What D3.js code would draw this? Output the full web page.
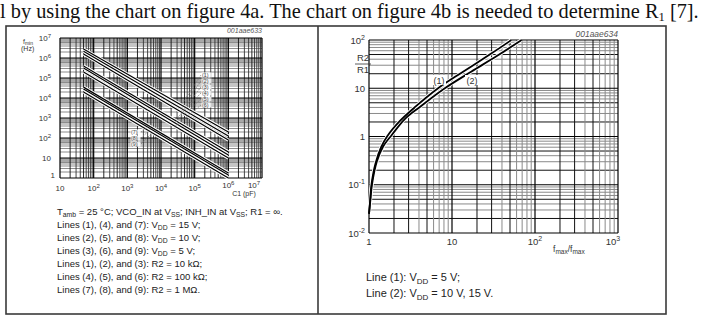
<!DOCTYPE html>
<html><head><meta charset="utf-8">
<script src="https://cdn.jsdelivr.net/npm/d3@7"></script>
<style>body{margin:0;background:#fff}svg{display:block}</style>
</head><body><svg id="c" width="702" height="318"></svg>
<script>
// ---------- Figure 4a data: f_min vs C1 (straight lines on log-log, given by end points) ----------
const c1Ends = [50, 1e6];                       // pF
const lineIdsA = ["(1)","(2)","(3)","(4)","(5)","(6)","(7)","(8)","(9)"];
const fminAtStart = [2.8e6, 2.2e6, 1.6e6, 4.0e5, 3.2e5, 2.0e5, 3.5e4, 2.8e4, 2.0e4];
const fminAtEnd   = [200, 126, 79, 20, 14, 10, 1.8, 1.4, 1.0];
const xTicksA = [10, 1e2, 1e3, 1e4, 1e5, 1e6, 1e7];
const yTicksA = [1, 10, 1e2, 1e3, 1e4, 1e5, 1e6, 1e7];
const leaderC1A = [4e4, 4e4, 4e4, 2.6e4, 2.6e4, 2.6e4, 4.5e3, 5e3, 5.5e3];

// ---------- Figure 4b data: R2/R1 vs fmax/fmin ----------
const ratioLine1 = [1.0, 1.03, 1.07, 1.2, 1.4, 1.65, 2.36, 3.6, 6.8, 13.6, 30, 52];
const r2r1Line1  = [0.025, 0.045, 0.1, 0.28, 0.6, 1.0, 2.1, 4.1, 10, 22, 53, 100];
const ratioLine2 = [1.0, 1.035, 1.085, 1.24, 1.48, 1.9, 2.7, 4.1, 8.2, 17, 35, 69];
const r2r1Line2  = [0.025, 0.045, 0.1, 0.3, 0.62, 1.1, 2.3, 4.1, 10, 22, 47, 100];
const xTicksB = [1, 10, 100, 1000];
const yTicksB = [0.01, 0.1, 1, 10, 100];

const svg = d3.select("#c");
const SANS = "'Liberation Sans', Arial, sans-serif";

// ---------- top sentence ----------
const tg = svg.append("g");
const tt = tg.append("text").attr("x", 0).attr("y", 18)
  .attr("font-family", "'Liberation Serif', 'DejaVu Serif', serif").attr("font-size", 21).attr("fill", "#111");
tt.append("tspan").text("l by using the chart on figure 4a. The chart on figure 4b is needed to determine R");
tt.append("tspan").attr("font-size", 13).attr("dy", 3).text("1");
tt.append("tspan").attr("dy", -3).text(" [7].");
const tw = tt.node().getComputedTextLength();
tg.attr("transform", `scale(${699 / tw},1)`);

// ---------- table frame ----------
svg.append("rect").attr("x", 6).attr("y", 26).attr("width", 660).attr("height", 288)
  .attr("fill", "none").attr("stroke", "#3a3a3a").attr("stroke-width", 1.6);
svg.append("line").attr("x1", 318).attr("x2", 318).attr("y1", 26).attr("y2", 314)
  .attr("stroke", "#3a3a3a").attr("stroke-width", 1.6);

function minors(lo, hi) {
  const out = [];
  for (let e = Math.round(Math.log10(lo)); e < Math.round(Math.log10(hi)); e++)
    for (let m = 2; m <= 9; m++) out.push({ v: m * Math.pow(10, e), m });
  return out;
}
function powLabel(sel, v, supSize, supDy) {
  const e = Math.round(Math.log10(v));
  if (e === 0) { sel.text("1"); return; }
  if (e === 1) { sel.text("10"); return; }
  sel.append("tspan").text("10");
  sel.append("tspan").attr("font-size", supSize).attr("dy", supDy).text(e < 0 ? "-" + (-e) : e);
}

// ================= Figure 4a =================
const xA = d3.scaleLog().domain([10, 1e7]).range([60, 262]);
const yA = d3.scaleLog().domain([1, 1e7]).range([178, 38]);
const gA = svg.append("g");

minors(1, 1e7).forEach(d => {
  gA.append("line").attr("x1", 60).attr("x2", 262).attr("y1", yA(d.v)).attr("y2", yA(d.v))
    .attr("stroke", "#8c8c8c").attr("stroke-width", 1.1);
});
minors(10, 1e7).forEach(d => {
  gA.append("line").attr("y1", 38).attr("y2", 178).attr("x1", xA(d.v)).attr("x2", xA(d.v))
    .attr("stroke", d.m === 5 || d.m === 2 ? "#111" : "#333").attr("stroke-width", 0.9);
});
yTicksA.forEach(v => gA.append("line").attr("x1", 60).attr("x2", 262).attr("y1", yA(v)).attr("y2", yA(v))
  .attr("stroke", "#000").attr("stroke-width", 1.2));
xTicksA.forEach(v => gA.append("line").attr("y1", 38).attr("y2", 178).attr("x1", xA(v)).attr("x2", xA(v))
  .attr("stroke", "#000").attr("stroke-width", 1.2));

const lineA = d3.line().x(d => xA(d[0])).y(d => yA(d[1]));
const segsA = fminAtStart.map((f0, i) => [[c1Ends[0], f0], [c1Ends[1], fminAtEnd[i]]]);
segsA.forEach(s => gA.append("path").attr("d", lineA(s)).attr("fill", "none")
  .attr("stroke", "#fff").attr("stroke-width", 3.2));
segsA.forEach(s => gA.append("path").attr("d", lineA(s)).attr("fill", "none")
  .attr("stroke", "#000").attr("stroke-width", 1.2));

// line labels with dashed leaders
function fOnLine(i, c) {
  const t = (Math.log10(c) - Math.log10(c1Ends[0])) / (Math.log10(c1Ends[1]) - Math.log10(c1Ends[0]));
  return Math.pow(10, Math.log10(fminAtStart[i]) + t * (Math.log10(fminAtEnd[i]) - Math.log10(fminAtStart[i])));
}
const labPosA = [[202, 75], [202, 81], [202, 87], [202, 93], [202, 99], [202, 105], [131, 132], [131, 138], [131, 144]];
lineIdsA.forEach((id, i) => {
  const [lx, ly] = labPosA[i];
  const tx = xA(leaderC1A[i]), ty = yA(fOnLine(i, leaderC1A[i]));
  const sx = i < 6 ? lx - 1 : lx + 10;
  gA.append("line").attr("x1", sx).attr("y1", ly).attr("x2", tx).attr("y2", ty)
    .attr("stroke", "#777").attr("stroke-width", 0.7).attr("stroke-dasharray", "1.5,1");
  gA.append("rect").attr("x", lx - 0.5).attr("y", ly - 2.6).attr("width", 10).attr("height", 5.2)
    .attr("fill", "#fff").attr("opacity", 0.85);
  gA.append("text").attr("x", lx).attr("y", ly + 2).attr("font-family", SANS).attr("font-size", 5.3)
    .attr("fill", "#444").text(id);
});

// axes labels 4a
yTicksA.forEach(v => {
  const t = gA.append("text").attr("x", v === 1 ? 55 : 51).attr("y", yA(v) + (v === 1 ? 0 : 3))
    .attr("text-anchor", "end").attr("font-family", SANS).attr("font-size", 8).attr("fill", "#333");
  powLabel(t, v, 6, -3);
});
xTicksA.forEach(v => {
  const hi = v >= 1e6;
  const t = gA.append("text").attr("x", v === 1e7 ? xA(v) - 8 : xA(v)).attr("y", hi ? 188 : 191)
    .attr("text-anchor", "middle").attr("font-family", SANS).attr("font-size", 8).attr("fill", "#333");
  powLabel(t, v, 6, -3);
});
gA.append("text").attr("x", 244).attr("y", 196).attr("text-anchor", "middle").attr("font-family", SANS)
  .attr("font-size", 7).attr("fill", "#333").text("C1 (pF)");
const fl = gA.append("text").attr("x", 23).attr("y", 44).attr("font-family", SANS).attr("font-size", 7).attr("fill", "#333");
fl.append("tspan").text("f");
fl.append("tspan").attr("font-size", 5).attr("dy", 1).text("min");
gA.append("text").attr("x", 21).attr("y", 51).attr("font-family", SANS).attr("font-size", 7).attr("fill", "#333").text("(Hz)");
gA.append("text").attr("x", 262).attr("y", 33).attr("text-anchor", "end").attr("font-family", SANS)
  .attr("font-style", "italic").attr("font-size", 7).attr("fill", "#555").text("001aae633");

// captions 4a
const capA = [
  [["T",""],["amb","sub"],[" = 25 °C; VCO_IN at V",""],["SS","sub"],["; INH_IN at V",""],["SS","sub"],["; R1 = ∞.",""]],
  [["Lines (1), (4), and (7): V",""],["DD","sub"],[" = 15 V;",""]],
  [["Lines (2), (5), and (8): V",""],["DD","sub"],[" = 10 V;",""]],
  [["Lines (3), (6), and (9): V",""],["DD","sub"],[" = 5 V;",""]],
  [["Lines (1), (2), and (3): R2 = 10 kΩ;",""]],
  [["Lines (4), (5), and (6): R2 = 100 kΩ;",""]],
  [["Lines (7), (8), and (9): R2 = 1 MΩ.",""]]
];
function richText(g, x, y, parts, size, subSize) {
  const t = g.append("text").attr("x", x).attr("y", y).attr("font-family", SANS).attr("font-size", size).attr("fill", "#222");
  let sub = false;
  parts.forEach(([s, k]) => {
    const ts = t.append("tspan").text(s);
    if (k === "sub" && !sub) { ts.attr("font-size", subSize).attr("dy", size * 0.25); sub = true; }
    else if (k !== "sub" && sub) { ts.attr("dy", -size * 0.25); sub = false; }
    else if (k === "sub") ts.attr("font-size", subSize);
  });
  return t;
}
capA.forEach((p, i) => richText(gA, 57, 215 + i * 13, p, 9.5, 6.8));

// ================= Figure 4b =================
const xB = d3.scaleLog().domain([1, 1000]).range([369, 618]);
const yB = d3.scaleLog().domain([0.01, 100]).range([233, 40]);
const gB = svg.append("g");
const dark = m => (m === 2 || m === 5);
minors(0.01, 100).forEach(d => gB.append("line").attr("x1", 369).attr("x2", 618).attr("y1", yB(d.v)).attr("y2", yB(d.v))
  .attr("stroke", dark(d.m) ? "#111" : "#8a8a8a").attr("stroke-width", 1));
minors(1, 1000).forEach(d => gB.append("line").attr("y1", 40).attr("y2", 233).attr("x1", xB(d.v)).attr("x2", xB(d.v))
  .attr("stroke", dark(d.m) || d.m === 3 ? "#111" : "#8a8a8a").attr("stroke-width", 1));
yTicksB.forEach(v => gB.append("line").attr("x1", 369).attr("x2", 618).attr("y1", yB(v)).attr("y2", yB(v))
  .attr("stroke", "#000").attr("stroke-width", 1.2));
xTicksB.forEach(v => gB.append("line").attr("y1", 40).attr("y2", 233).attr("x1", xB(v)).attr("x2", xB(v))
  .attr("stroke", "#000").attr("stroke-width", 1.2));

const curveB = d3.line().x(d => xB(d[0])).y(d => yB(d[1])).curve(d3.curveCatmullRom.alpha(0.5));
const seriesB = [[ratioLine1, r2r1Line1], [ratioLine2, r2r1Line2]];
seriesB.forEach(([xs, ys]) => {
  const pts = xs.map((x, i) => [x, ys[i]]);
  gB.append("path").attr("d", curveB(pts)).attr("fill", "none").attr("stroke", "#fff").attr("stroke-width", 3.5);
});
seriesB.forEach(([xs, ys]) => {
  const pts = xs.map((x, i) => [x, ys[i]]);
  gB.append("path").attr("d", curveB(pts)).attr("fill", "none").attr("stroke", "#000").attr("stroke-width", 1.8);
});
[["(1)", 439], ["(2)", 472]].forEach(([s, x]) => {
  gB.append("rect").attr("x", x - 7).attr("y", 75).attr("width", 14).attr("height", 10).attr("fill", "#fff");
  gB.append("text").attr("x", x).attr("y", 83.5).attr("text-anchor", "middle").attr("font-family", SANS)
    .attr("font-size", 9).attr("fill", "#333").text(s);
});

yTicksB.forEach(v => {
  const t = gB.append("text").attr("x", 365).attr("y", yB(v) + 3.5).attr("text-anchor", "end")
    .attr("font-family", SANS).attr("font-size", 9.5).attr("fill", "#333");
  powLabel(t, v, 7, -4);
});
xTicksB.forEach(v => {
  const t = gB.append("text").attr("x", v === 1000 ? xB(v) - 5 : xB(v)).attr("y", 245).attr("text-anchor", "middle")
    .attr("font-family", SANS).attr("font-size", 9.5).attr("fill", "#333");
  powLabel(t, v, 7, -4);
});
gB.append("text").attr("x", 363).attr("y", 61).attr("text-anchor", "middle").attr("font-family", SANS)
  .attr("font-size", 9.5).attr("fill", "#333").text("R2");
gB.append("line").attr("x1", 355).attr("x2", 371).attr("y1", 64).attr("y2", 64).attr("stroke", "#333").attr("stroke-width", 0.8);
gB.append("text").attr("x", 363).attr("y", 73).attr("text-anchor", "middle").attr("font-family", SANS)
  .attr("font-size", 9.5).attr("fill", "#333").text("R1");
const xl = gB.append("text").attr("x", 553).attr("y", 252).attr("font-family", SANS).attr("font-size", 8.5).attr("fill", "#333");
xl.append("tspan").text("f");
xl.append("tspan").attr("font-size", 6.5).attr("dy", 2).text("max");
xl.append("tspan").attr("dy", -2).text("/f");
xl.append("tspan").attr("font-size", 6.5).attr("dy", 2).text("max");
gB.append("text").attr("x", 618).attr("y", 37).attr("text-anchor", "end").attr("font-family", SANS)
  .attr("font-style", "italic").attr("font-size", 8.5).attr("fill", "#555").text("001aae634");

richText(gB, 366, 281, [["Line (1): V",""],["DD","sub"],[" = 5 V;",""]], 11, 8);
richText(gB, 366, 297, [["Line (2): V",""],["DD","sub"],[" = 10 V, 15 V.",""]], 11, 8);
</script></body></html>
